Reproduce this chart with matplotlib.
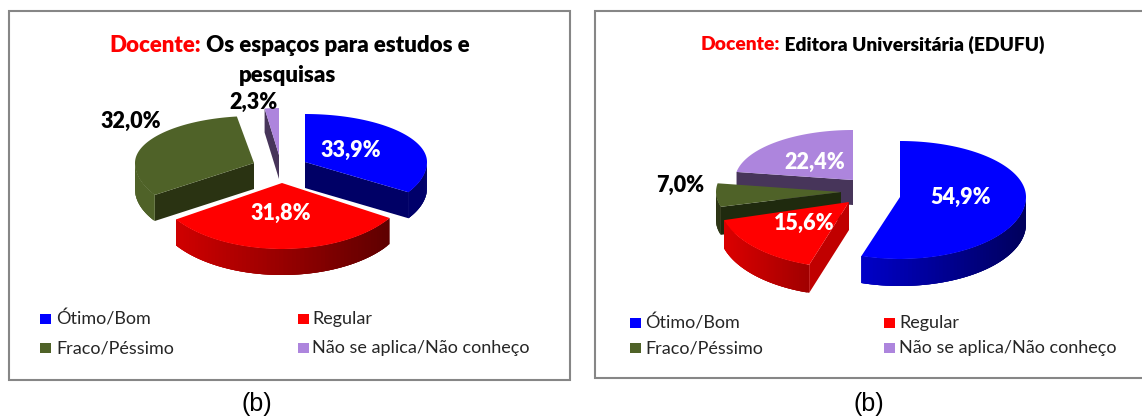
import numpy as np
import matplotlib
matplotlib.use("Agg")
import matplotlib.pyplot as plt
from matplotlib.patches import Polygon, Rectangle
from matplotlib.colors import to_rgb

categories = ["Ótimo/Bom", "Regular", "Fraco/Péssimo", "Não se aplica/Não conheço"]
values_a = [33.9, 31.8, 32.0, 2.3]
values_b = [54.9, 15.6, 7.0, 22.4]
labels_a = ["33,9%", "31,8%", "32,0%", "2,3%"]
labels_b = ["54,9%", "15,6%", "7,0%", "22,4%"]

top_colors = ["#0000FF", "#FF0000", "#4F6228", "#AD85DD"]

# geometry of each exploded slice: cx, cy, rx, ry back, ry front, depth
geom_a = [(305, 162, 122, 48, 57, 26), (282, 183, 127, 66, 66, 26),
          (254, 163, 119, 47, 58, 26), (279, 155, 100, 47, 47, 24)]
geom_b = [(900, 197, 126, 56, 62, 27), (849, 202, 130, 66, 66, 28),
          (841, 192, 125, 54, 54, 28), (853, 180, 118, 50, 50, 25)]

# wall styles: outer wall colours (left, right), which cut face shows, cut colour
walls_a = [(("#00006A", "#00006A"), "end", "#000066"),
           (("#D00000", "#5E0000"), None, None),
           (("#4F6228", "#4F6228"), "start", "#2A3312"),
           (("#47355A", "#47355A"), "start", "#47355A")]
walls_b = [(("#0000C8", "#00005C"), None, None),
           (("#DC0000", "#A00000"), "start", "#C00000"),
           (("#2A3312", "#2A3312"), "start", "#1F2A0E"),
           (("#47355A", "#47355A"), "start", "#47355A")]


def rim(g, a):
    cx, cy, rx, ry_b, ry_f, d = g
    a = np.radians(a)
    c = np.cos(a)
    return cx + rx * np.sin(a), cy - np.where(c > 0, ry_b, ry_f) * c


def draw_slice(ax, g, a0, a1, top, wall):
    cx, cy, rx, ry_b, ry_f, d = g
    (c_left, c_right), cut, cut_col = wall
    # cut face
    if cut is not None:
        xe, ye = rim(g, a0 if cut == "start" else a1)
        ax.add_patch(Polygon([(cx, cy), (xe, ye), (xe, ye + d), (cx, cy + d)],
                             fc=cut_col, ec="none"))
    # outer wall, overlapping strips for the shading
    lo, hi = max(a0, 90), min(a1, 270)
    if hi > lo:
        tt = np.linspace(lo, hi, 61)
        x, y = rim(g, tt)
        x0, x1 = x.min(), x.max()
        cl, cr = np.array(to_rgb(c_left)), np.array(to_rgb(c_right))
        for i in range(len(tt) - 1):
            j = min(i + 3, len(tt) - 1)
            f = ((x[i] + x[i + 1]) / 2 - x0) / (x1 - x0)
            col = cl + (cr - cl) * f
            strip = [(x[k], y[k]) for k in range(i, j + 1)]
            strip += [(x[k], y[k] + d) for k in range(j, i - 1, -1)]
            ax.add_patch(Polygon(strip, fc=col, ec="none"))
    tt = np.linspace(a0, a1, 120)
    x, y = rim(g, tt)
    pts = [(cx, cy)] + list(zip(x, y))
    ax.add_patch(Polygon(pts, fc=top, ec="none"))


def draw_pie(ax, values, geom, walls, order):
    ang = np.cumsum([0] + values) / sum(values) * 360
    for i in order:
        draw_slice(ax, geom[i], ang[i], ang[i + 1], top_colors[i], walls[i])


def draw_legend(ax, xs, ys, tx):
    k = 0
    for y in ys:
        for x, t in zip(xs, tx):
            ax.add_patch(Rectangle((x, y - 5), 11, 10, fc=top_colors[k], ec="none"))
            ax.text(t, y, categories[k], fontsize=13, color="#262626", va="center",
                    ha="left", family="Lato")
            k += 1


def two_part_title(ax, x, y, red, black, size):
    t = ax.text(x, y, red, color="#FF0000", fontsize=size, fontweight=800,
                va="center", ha="left", family="Lato")
    ax.annotate(" " + black, xy=(1, 0), xycoords=t, va="bottom", ha="left",
                fontsize=size, fontweight=800, color="black", family="Lato")


fig = plt.figure(figsize=(11.42, 4.18), dpi=100)
ax = fig.add_axes([0, 0, 1, 1])
ax.set_xlim(0, 1142)
ax.set_ylim(418, 0)
ax.axis("off")

# frames
ax.add_patch(Rectangle((8.5, 10.5), 561, 369, fc="white", ec="#868686", lw=1.5))
ax.add_patch(Rectangle((594.5, 10.5), 560, 367, fc="white", ec="#868686", lw=1.5))

draw_pie(ax, values_a, geom_a, walls_a, [2, 3, 0, 1])
draw_pie(ax, values_b, geom_b, walls_b, [3, 2, 1, 0])

two_part_title(ax, 109, 46, "Docente:", "Os espaços para estudos e", 16)
ax.text(288, 75, "pesquisas", fontsize=16, fontweight=800, ha="center",
        va="center", family="Lato")
two_part_title(ax, 701, 45, "Docente:", "Editora Universitária (EDUFU)", 13.9)

pos_a = [(351, 150), (281, 213), (131, 121), (254, 102)]
pos_b = [(961, 197), (804, 223), (680, 185), (815, 162)]
col_a = ["white", "white", "black", "black"]
col_b = ["white", "white", "black", "white"]
for lab, p, c in zip(labels_a + labels_b, pos_a + pos_b, col_a + col_b):
    ax.text(p[0], p[1], lab, color=c, fontsize=15.5, fontweight=800, ha="center",
            va="center", family="Lato")

draw_legend(ax, [40, 298], [319, 348], [56, 312])
draw_legend(ax, [630, 884], [323, 348], [645, 899])

ax.text(257, 404, "(b)", fontsize=18, ha="center", va="center", family="Liberation Sans")
ax.text(869, 404, "(b)", fontsize=18, ha="center", va="center", family="Liberation Sans")

fig.savefig("out.png", dpi=100)
